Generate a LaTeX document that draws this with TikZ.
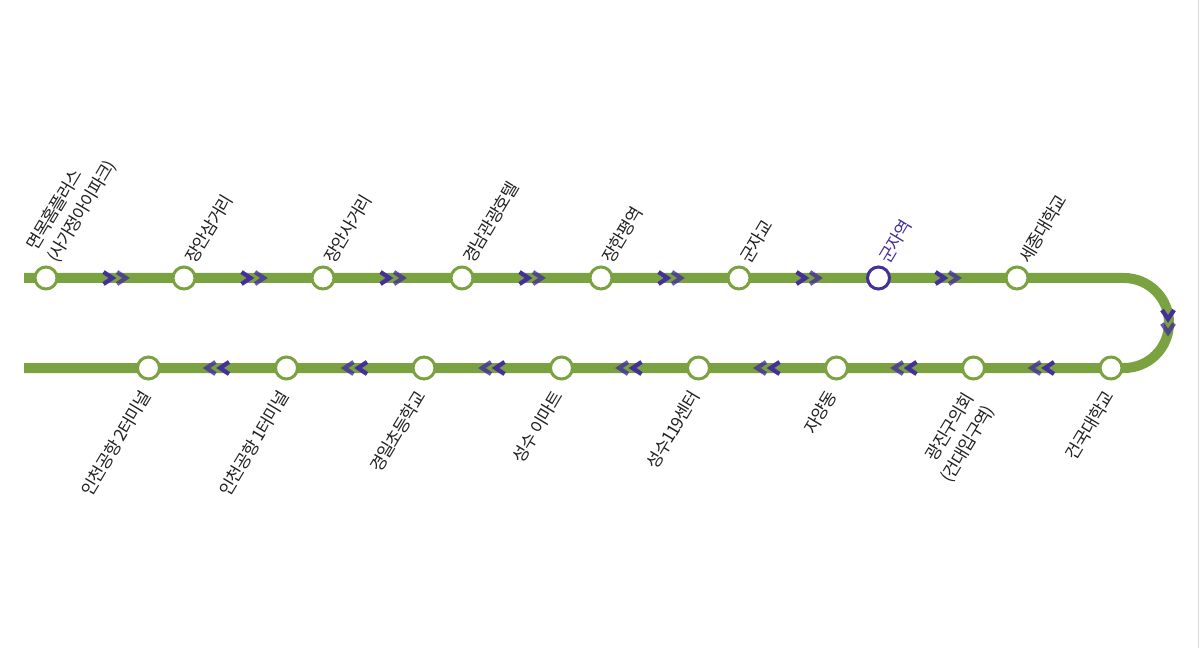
\documentclass[tikz,border=0pt]{standalone}
\usepackage{fontspec}
\setmainfont[LetterSpace=-6]{Noto Sans CJK KR}
\definecolor{linegreen}{HTML}{7AA240}
\definecolor{linepurple}{HTML}{452F9B}
\definecolor{labelink}{HTML}{222222}
\tikzset{
  x=0.75pt,y=-0.75pt,
  route/.style={draw=linegreen,line width=7.5pt},
  station/.style={circle,draw=linegreen,fill=white,line width=2.25pt,minimum size=16.5pt,inner sep=0pt,outer sep=0pt},
  hub/.style={station,draw=linepurple},
  toplabel/.style={rotate=59,anchor=base west,font=\fontsize{13}{18}\selectfont,text=labelink,inner sep=0pt,align=left},
  botlabel/.style={rotate=59,anchor=base east,font=\fontsize{13}{18}\selectfont,text=labelink,inner sep=0pt,align=right},
  chev/.pic={\draw[linepurple,line width=3.2pt,miter limit=10] (-5.5,-6) -- (3.5,0) -- (-5.5,6);
             \draw[linepurple,opacity=.8,line width=3.2pt,miter limit=10] (8,-6) -- (17,0) -- (8,6);}
}
\begin{document}
\begin{tikzpicture}
\useasboundingbox (0,0) rectangle (1201,648);
\draw[black!15,line width=1pt] (1198.5,0) coordinate (ea) -- (1198.5,648) coordinate (eb);
\coordinate (start) at (24,278);
\coordinate (end) at (24,368);
\coordinate (ca) at (1124,278);
\draw[route] (start) -- (ca) arc[start angle=90,end angle=-90,radius=33.75pt] -- (end);
% chevrons
\foreach \x in {109,247,386,525,664,802,941} \pic at (\x,278) {chev};
\foreach \x in {1048.5,911,774,636,499,361.5,223.5} \pic[xscale=-1] at (\x,368) {chev};
\pic[rotate=-90] at (1168,315.5) {chev};
% stations
\node[station] (t1) at (46,278) {};
\node[station] (t2) at (184,278) {};
\node[station] (t3) at (323,278) {};
\node[station] (t4) at (462,278) {};
\node[station] (t5) at (601,278) {};
\node[station] (t6) at (739,278) {};
\node[hub]     (t7) at (878.5,278) {};
\node[station] (t8) at (1017,278) {};
\node[station] (b1) at (1111,368) {};
\node[station] (b2) at (973.5,368) {};
\node[station] (b3) at (836.5,368) {};
\node[station] (b4) at (698.5,368) {};
\node[station] (b5) at (561.5,368) {};
\node[station] (b6) at (424,368) {};
\node[station] (b7) at (286.5,368) {};
\node[station] (b8) at (148.5,368) {};
% labels
\node[toplabel] (lt1) at (57,264) {면목홈플러스\\(사가정아이파크)};
\node[toplabel] (lt2) at (195,264.5) {장안삼거리};
\node[toplabel] (lt3) at (334,264.5) {장안사거리};
\node[toplabel] (lt4) at (473,264.5) {경남관광호텔};
\node[toplabel] (lt5) at (612,264.5) {장한평역};
\node[toplabel] (lt6) at (750,264.5) {군자교};
\node[toplabel,text=linepurple] (lt7) at (889,264.5) {군자역};
\node[toplabel] (lt8) at (1029,264.5) {세종대학교};
\node[botlabel] (lb1) at (1115,396) {건국대학교};
\node[botlabel] (lb2) at (995,410) {광진구의회\\(건대입구역)};
\node[botlabel] (lb3) at (838,396) {자양동};
\node[botlabel] (lb4) at (701,396) {성수119센터};
\node[botlabel] (lb5) at (564,396) {성수 이마트};
\node[botlabel] (lb6) at (427,396) {경일초등학교};
\node[botlabel] (lb7) at (290,396) {인천공항 1터미널};
\node[botlabel] (lb8) at (152,396) {인천공항 2터미널};
\end{tikzpicture}
\end{document}
